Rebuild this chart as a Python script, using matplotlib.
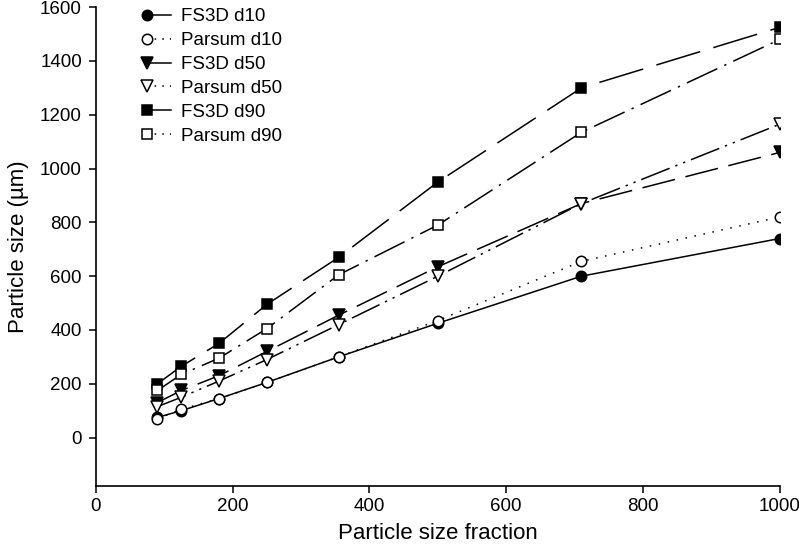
import matplotlib
matplotlib.use("Agg")
import matplotlib.pyplot as plt
from matplotlib.lines import Line2D
from matplotlib.legend_handler import HandlerLine2D

plt.rcParams['font.family'] = ['Liberation Sans', 'DejaVu Sans']

fractions = [90, 125, 180, 250, 355, 500, 710, 1000]

fs3d_d10 = [75, 100, 145, 205, 300, 425, 600, 740]
parsum_d10 = [70, 105, 145, 205, 300, 435, 655, 820]
fs3d_d50 = [130, 175, 230, 320, 455, 635, 870, 1060]
parsum_d50 = [115, 150, 210, 290, 420, 600, 870, 1165]
fs3d_d90 = [200, 265, 350, 495, 670, 950, 1300, 1525]
parsum_d90 = [175, 235, 295, 405, 605, 790, 1135, 1480]


# legend handle with the marker at the left end of the line (SigmaPlot style)
class MarkerLeftHandler(HandlerLine2D):
    def get_xdata(self, legend, xdescent, ydescent, width, height, fontsize):
        x0 = -xdescent + 0.2 * width
        x1 = -xdescent + width
        return [x0, x1], [x0]

    def create_artists(self, *args, **kwargs):
        arts = super().create_artists(*args, **kwargs)
        for a in arts:
            a.set_markevery([0])
        return arts


fig = plt.figure(figsize=(7.99, 5.51), dpi=100)
ax = fig.add_axes([0.120, 0.118, 0.856, 0.869])

ms = 7.5
series = [
    (fs3d_d10, 'o', 'black', '-', '-', 'FS3D d10'),
    (parsum_d10, 'o', 'white', (0, (1, 5)), (0, (1, 4)), 'Parsum d10'),
    (fs3d_d50, 'v', 'black', (0, (22, 7)), '-', 'FS3D d50'),
    (parsum_d50, 'v', 'white', (0, (20, 4, 1.5, 4, 1.5, 4)), (0, (1, 4)), 'Parsum d50'),
    (fs3d_d90, 's', 'black', (0, (30, 9)), '-', 'FS3D d90'),
    (parsum_d90, 's', 'white', (0, (22, 5, 1.5, 5)), (0, (1, 4)), 'Parsum d90'),
]

handles = []
for vals, mk, fc, ls, leg_ls, name in series:
    size = ms + 1 if mk == 'v' else ms
    ax.plot(fractions, vals, color='black', lw=1.1, linestyle=ls,
            marker=mk, ms=size, mfc=fc, mec='black', mew=1.1)
    handles.append(Line2D([], [], color='black', lw=1.1, linestyle=leg_ls,
                          marker=mk, ms=size, mfc=fc, mec='black', mew=1.1, label=name))

ax.set_xlim(0, 1000)
ax.set_ylim(-180, 1600)
ax.set_xticks(range(0, 1001, 200))
ax.set_yticks(range(0, 1601, 200))
ax.spines['top'].set_visible(False)
ax.spines['right'].set_visible(False)
ax.spines['left'].set_linewidth(1.2)
ax.spines['bottom'].set_linewidth(1.2)
ax.tick_params(direction='out', length=5, width=1.1, labelsize=13.5, colors='black')
ax.tick_params(axis='y', pad=5)
ax.set_xlabel('Particle size fraction', fontsize=16, labelpad=6)
ax.set_ylabel('Particle size (µm)', fontsize=16, labelpad=8)

ax.legend(handles=handles, loc='upper left', bbox_to_anchor=(0.042, 1.033),
          frameon=False, fontsize=13.5, handlelength=1.6, handletextpad=0.53,
          labelspacing=0.36, handler_map={Line2D: MarkerLeftHandler()})

fig.savefig('out.png', dpi=100)
